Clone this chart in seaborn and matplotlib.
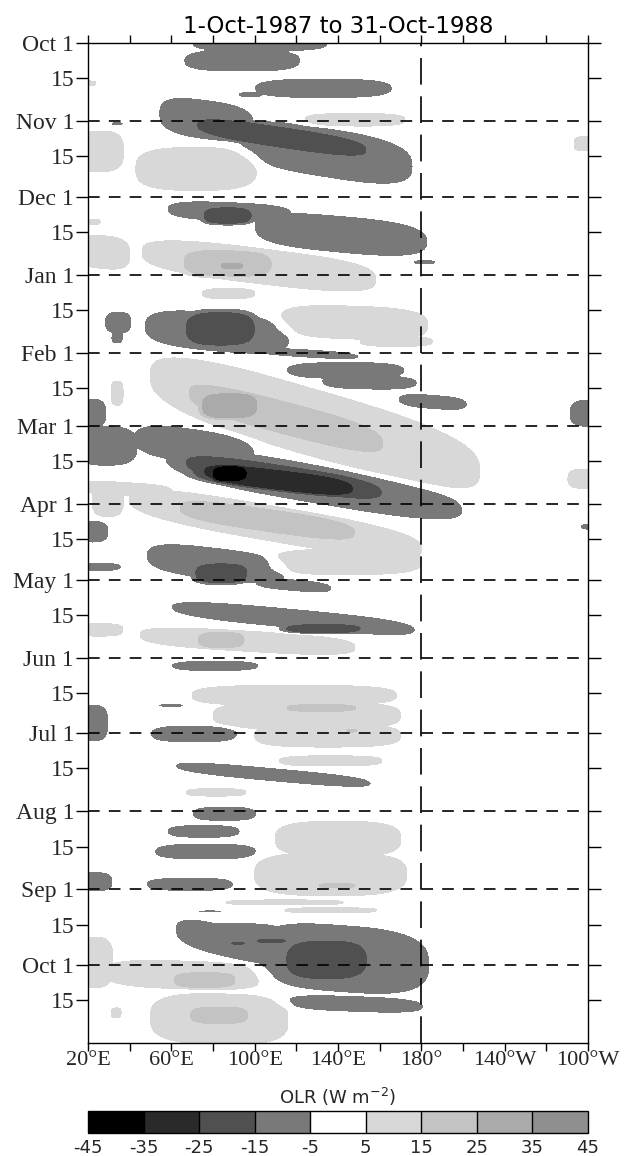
import numpy as np
import pandas as pd
import matplotlib
matplotlib.use("Agg")
import matplotlib.pyplot as plt
import seaborn as sns

# ---------------------------------------------------------------------------
# OLR anomaly features, Oct 1987 - Oct 1988 (Hovmoller, lon vs. time)
# each feature: (lon_start, lon_end, day_at_lon_start, day_at_lon_end,
#                half_width_days, anomaly_W_m2); day 0 = 1 Oct 1987
# ---------------------------------------------------------------------------
feat_oct87 = [
    (70, 135, 0.5, 0.5, 3.0, -10), (66, 122, 7, 7, 4.5, -10),
    (100, 166, 18, 18, 4.0, -10), (92, 104, 20.5, 20.5, 1.2, -10),
    (124, 172, 30.5, 30.5, 2.5, 10), (16, 24, 16, 16, 1.0, 8),
]
feat_nov87 = [
    (54, 100, 28, 33, 8.0, -10), (92, 176, 38, 49, 10, -10),
    (68, 158, 32, 43, 4.8, -20), (31, 37, 32, 32, 0.8, -10),
    (14, 37, 43, 43, 8.0, 10), (43, 101, 50, 50, 8.5, 10),
    (253, 266, 40, 40, 3.0, 8),
]
feat_dec87 = [
    (58, 118, 66, 68, 4.0, -10), (100, 183, 73, 79, 7.5, -10),
    (74, 100, 68.5, 68.5, 3.8, -20), (176, 187, 87, 87, 1.0, -10),
    (46, 158, 83, 94, 7.0, 10), (64, 110, 87, 88, 5.5, 20),
    (83, 95, 88.5, 88.5, 1.2, 30), (14, 40, 82, 84, 6.5, 10),
    (16, 26, 71, 71, 1.2, 8),
]
feat_jan88 = [
    (75, 100, 99.5, 99.5, 2.0, 10), (112, 183, 110, 112, 6.5, 10),
    (150, 186, 118.5, 118.5, 2.0, 8), (47, 117, 112.5, 117, 8.0, -10),
    (65, 102, 113.5, 113.5, 7.5, -20), (100, 150, 122, 124.5, 1.8, -10),
    (28, 41, 111, 111, 4.5, -10), (31, 37, 117, 117, 2.5, -10),
]
feat_feb88 = [
    (115, 172, 130, 130, 3.5, -10), (132, 178, 134.5, 135, 3.0, -10),
    (169, 202, 141.5, 143.5, 3.0, -10), (251, 268, 147, 147, 5.5, -10),
    (50, 208, 132, 170, 13.5, 10), (64, 166, 138, 160, 7.0, 20),
    (73, 103, 144, 144, 5.5, 30), (31, 37, 139, 139, 5.0, 8),
]
feat_mar88 = [
    (14, 29, 147, 147, 6.0, -10), (14, 44, 160, 160, 8.0, -10),
    (42, 100, 157, 163, 7.0, -10), (58, 200, 165, 185, 8.0, -10),
    (62, 166, 166, 179, 5.5, -20), (70, 153, 169.5, 177.5, 4.8, -30),
    (78, 98, 171, 171, 3.8, -40),
]
feat_apr88 = [
    (14, 60, 176, 178, 2.5, 10), (22, 37, 181, 181, 7.0, 10),
    (40, 180, 181, 201, 7.0, 10), (108, 180, 206, 206, 5.0, 10),
    (60, 152, 184, 195, 4.8, 20), (250, 268, 173, 173, 4.0, 8),
    (256, 268, 192, 192, 1.5, -8), (14, 30, 194, 194, 4.5, -10),
    (15, 36, 208, 208, 1.8, -10),
]
feat_may88 = [
    (48, 115, 203.5, 210, 6.5, -10), (100, 137, 214, 216.5, 2.5, -10),
    (70, 98, 210.5, 210.5, 4.5, -20), (60, 177, 224, 233, 4.0, -10),
    (113, 153, 232.5, 232.5, 2.2, -20), (14, 37, 233, 233, 2.5, 9),
    (45, 148, 235, 240, 4.0, 10), (72, 96, 237, 237, 3.3, 20),
]
feat_jun88 = [
    (60, 102, 247.3, 247.3, 2.2, -10), (70, 168, 259, 259, 4.0, 10),
    (80, 170, 267, 267, 5.5, 10), (100, 170, 275, 275, 4.5, 10),
    (114, 150, 264, 264, 1.5, 20), (144, 149, 273, 273, 0.6, 20),
    (54, 66, 263, 263, 0.8, -10), (14, 30, 270, 270, 7.5, -10),
    (50, 92, 274.3, 274.3, 3.5, -10),
]
feat_jul88 = [
    (112, 161, 285, 285, 2.0, 10), (62, 156, 287, 294, 2.8, -10),
    (67, 96, 297.5, 297.5, 1.5, 9),
]
feat_aug88 = [
    (70, 101, 306, 306, 3.0, -10), (58, 93, 313, 313, 2.7, -10),
    (52, 101, 321, 321, 3.3, -10), (48, 90, 334, 334, 2.8, -10),
    (14, 32, 333, 333, 4.0, -10), (110, 170, 316, 316, 7.0, 10),
    (100, 173, 330, 330, 8.5, 10), (130, 149, 334.5, 334.5, 0.9, 20),
]
feat_sep88 = [
    (86, 143, 341.2, 341.2, 1.0, 9), (114, 159, 344.3, 344.3, 1.0, 9),
    (73, 84, 344.8, 344.8, 0.6, -10), (64, 112, 352, 352, 2.8, -10),
    (62, 115, 352, 362, 6.5, -10), (100, 184, 361, 366, 13.5, -10),
    (113, 156, 364, 364, 8.6, -20), (100, 116, 356.5, 356.5, 1.2, -20),
    (88, 96, 357.4, 357.4, 0.9, -20), (115, 181, 380.5, 382.5, 3.3, -10),
]
feat_oct88 = [
    (14, 32, 365, 365, 10, 10), (28, 104, 369, 371, 5.5, 10),
    (50, 116, 387, 388, 10, 10), (60, 92, 372, 372, 3.2, 20),
    (68, 98, 386, 386, 3.6, 20), (31, 36, 385, 385, 2.0, 8),
]

# contour levels and shading (W m^-2)
levels = [-45, -35, -25, -15, -5, 5, 15, 25, 35, 45]
shades = ["#000000", "#2a2a2a", "#505050", "#797979", "#ffffff",
          "#d8d8d8", "#c3c3c3", "#aaaaaa", "#8f8f8f"]
cbar_labels = ["-45", "-35", "-25", "-15", "-5", "5", "15", "25", "35", "45"]

lon_ticks = list(range(20, 261, 20))
lon_labels = {20: "20°E", 60: "60°E", 100: "100°E", 140: "140°E",
              180: "180°", 220: "140°W", 260: "100°W"}

start = pd.Timestamp("1987-10-01")
end_day = (pd.Timestamp("1988-10-31") - start).days + 1

# ---------------------------------------------------------------------------
lon = np.arange(20, 260.01, 0.5, dtype=np.float32)
day = np.arange(0, end_day + 0.01, 0.25, dtype=np.float32)
LON, DAY = np.meshgrid(lon, day)

POW, SHARP = 3.0, 12.0


def feature(lon0, lon1, d0, d1, w, amp):
    u = (LON - lon0) / (lon1 - lon0)
    centre = d0 + u * (d1 - d0)
    a = np.abs(2 * u - 1)
    b = np.abs(DAY - centre) / w
    r = (a ** POW + b ** POW) ** (1 / POW)
    return amp / (1 + np.exp(np.clip(SHARP * (r - 1), -50, 50)))


neg = np.zeros_like(LON)
pos = np.zeros_like(LON)
for group in (feat_oct87, feat_nov87, feat_dec87, feat_jan88, feat_feb88,
              feat_mar88, feat_apr88, feat_may88, feat_jun88, feat_jul88,
              feat_aug88, feat_sep88, feat_oct88):
    for f in group:
        v = feature(*f)
        if f[5] < 0:
            neg = np.minimum(neg, v)
        else:
            pos = np.maximum(pos, v)
olr = neg + pos

# ---------------------------------------------------------------------------
sns.set_style("ticks")
plt.rcParams["font.family"] = ["DejaVu Sans"]
plt.rcParams["axes.edgecolor"] = "black"
plt.rcParams["axes.linewidth"] = 1.0

W, H = 625, 1156
fig = plt.figure(figsize=(W / 100, H / 100), dpi=100)
ax = fig.add_axes([88 / W, 1 - 1043 / H, 500 / W, 1000 / H])

cf = ax.contourf(LON, DAY, olr, levels=levels, colors=shades)

ax.set_xlim(20, 260)
ax.set_ylim(end_day, 0)

# dashed reference lines: month starts and the date line
month_starts = pd.date_range("1987-10-01", "1988-10-01", freq="MS")
month_days = [(m - start).days for m in month_starts]
for d in month_days[1:]:
    ax.axhline(d, color="black", lw=1.2, ls=(0, (7.0, 5.5)), zorder=3)
ax.axvline(180, color="black", lw=1.2, ls=(0, (16, 7)), zorder=3)

# axis ticks
ax.set_xticks(lon_ticks)
ax.set_xticklabels([lon_labels.get(t, "") for t in lon_ticks],
                   family="Liberation Serif", fontsize=16)
ax.tick_params(axis="x", which="major", direction="out", length=6,
               width=1, top=True, bottom=True, pad=0, color="black")

ytick_pos, ytick_lab = [], []
for m, d in zip(month_starts, month_days):
    ytick_pos += [d, d + 14]
    ytick_lab += [f"{m.strftime('%b')} 1", "15"]
ax.set_yticks(ytick_pos)
ax.set_yticklabels(ytick_lab, family="Liberation Serif", fontsize=17)
ax.tick_params(axis="y", which="major", direction="out", length=9,
               width=1, left=True, right=True, pad=1, color="black")
ax.grid(False)
for s in ax.spines.values():
    s.set_visible(True)
    s.set_color("black")

ax.set_title("1-Oct-1987 to 31-Oct-1988", fontsize=16.5, pad=7,
             family="DejaVu Sans", color="black")

# colour bar
cax = fig.add_axes([88 / W, 1 - 1133 / H, 500 / W, 22 / H])
cb = fig.colorbar(cf, cax=cax, orientation="horizontal", drawedges=True)
cb.outline.set_edgecolor("black")
cb.outline.set_linewidth(1.0)
cb.dividers.set_color("black")
cb.dividers.set_linewidth(1.0)
cb.set_ticks(levels)
cb.set_ticklabels(cbar_labels)
cax.tick_params(length=0, labelsize=13, pad=4)
cax.set_title("OLR (W m$^{-2}$)", fontsize=13, pad=5)

fig.savefig("out.png", dpi=100, facecolor="white")
